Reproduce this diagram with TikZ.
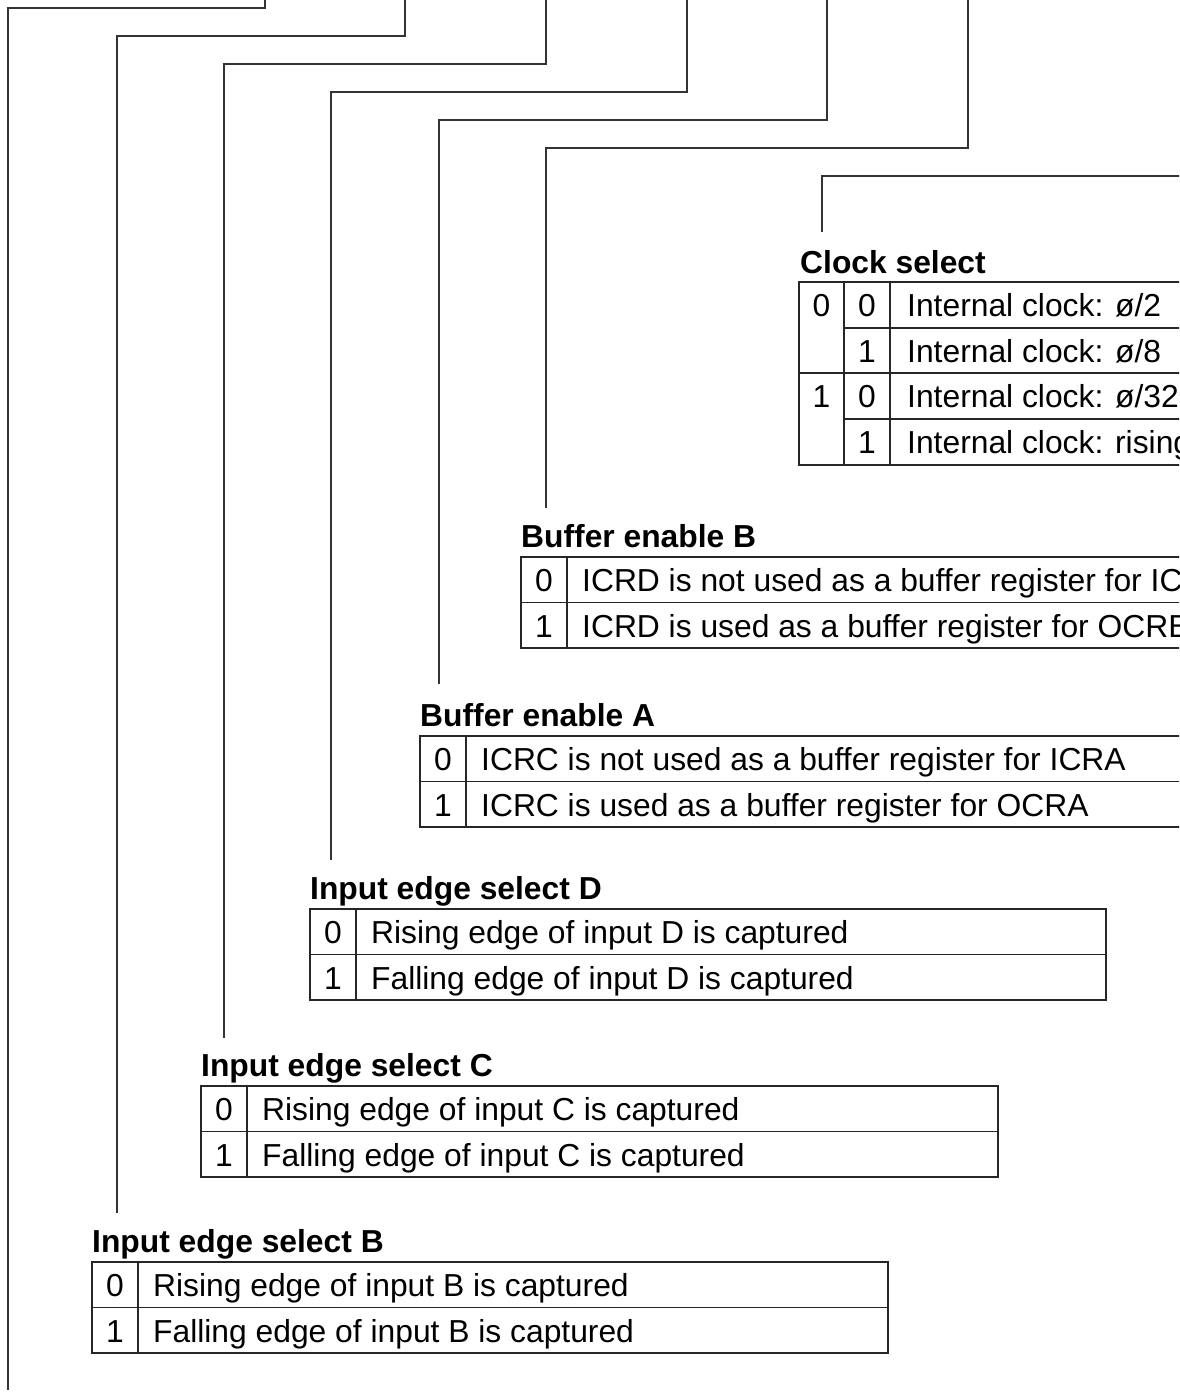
\documentclass[tikz,border=0pt]{standalone}
\usepackage{fontspec}
\newfontfamily\arialf{Liberation Sans}
\newcommand\bodyfont{\arialf\fontsize{31.8}{38}\selectfont}
\newcommand\titlefont{\arialf\bfseries\fontsize{31.8}{38}\selectfont}
\tikzset{
  ttl/.style={font=\titlefont, anchor=base west, inner sep=0pt},
  dig/.style={font=\bodyfont, anchor=base, inner sep=0pt},
  txt/.style={font=\bodyfont, anchor=base west, inner sep=0pt},
  rule/.style={draw=black!85, line width=1.4pt},
  conn/.style={draw=black!80, line width=1.4pt},
}
\begin{document}
\begin{tikzpicture}[x=1pt,y=-1pt]
\useasboundingbox (0,0) rectangle (1179,1395);
\fill[white] (0,0) rectangle (1179,1395);
\clip (0,0) rectangle (1179,1395);

% ---------- connectors ----------
\coordinate (s1) at (265,-5);  \coordinate (b1) at (8,8);    \coordinate (e1) at (8,1390);
\coordinate (s2) at (405,-5);  \coordinate (b2) at (117,36); \coordinate (e2) at (117,1213);
\coordinate (s3) at (546,-5);  \coordinate (b3) at (224,64); \coordinate (e3) at (224,1038);
\coordinate (s4) at (687,-5);  \coordinate (b4) at (331,92); \coordinate (e4) at (331,860);
\coordinate (s5) at (827,-5);  \coordinate (b5) at (439,120);\coordinate (e5) at (439,684);
\coordinate (s6) at (968,-5);  \coordinate (b6) at (546,148);\coordinate (e6) at (546,508);
\coordinate (s7) at (1300,176);\coordinate (b7) at (822,176);\coordinate (e7) at (822,232);
\foreach \i in {1,...,6}{
  \draw[conn] (s\i) -- (s\i |- b\i) -- (b\i) -- (e\i);
}
\draw[conn] (s7) -- (b7) -- (e7);

% ---------- Clock select ----------
\node[ttl] (tclk) at (800,273) {Clock select};
\draw[rule] (799,282) rectangle (1300,465);
\draw[rule] (844,282) -- (844,465);
\draw[rule] (890,282) -- (890,465);
\draw[rule] (799,373) -- (1300,373);
\draw[rule] (844,328) -- (1300,328);
\draw[rule] (844,419) -- (1300,419);
\node[dig] (c1a) at (821.5,316) {0};
\node[dig] (c1b) at (821.5,407) {1};
\node[dig] (c2a) at (867,316) {0};
\node[dig] (c2b) at (867,362) {1};
\node[dig] (c2c) at (867,407) {0};
\node[dig] (c2d) at (867,453) {1};
\node[txt] (ct1) at (907,316) {Internal clock: ø/2};
\node[txt] (ct2) at (907,362) {Internal clock: ø/8};
\node[txt] (ct3) at (907,407) {Internal clock: ø/32};
\node[txt] (ct4) at (907,453) {Internal clock: rising edge};

% ---------- two-row tables ----------
% #1 name, #2 left, #3 top, #4 right, #5 title, #6 row0, #7 row1
\newcommand\twotab[7]{%
  \node[ttl] (t#1) at (#2,#3-10) {#5};
  \draw[rule] (#2,#3) rectangle (#4,#3+91);
  \draw[rule] (#2+46,#3) -- (#2+46,#3+91);
  \draw[rule] (#2,#3+45.5) -- (#4,#3+45.5);
  \node[dig] (d#1a) at (#2+23,#3+34) {0};
  \node[dig] (d#1b) at (#2+23,#3+80) {1};
  \node[txt] (x#1a) at (#2+61,#3+34) {#6};
  \node[txt] (x#1b) at (#2+61,#3+80) {#7};
}
\twotab{bb}{521}{557}{1300}{Buffer enable B}{ICRD is not used as a buffer register for ICRB}{ICRD is used as a buffer register for OCRB}
\twotab{ba}{420}{736}{1300}{Buffer enable A}{ICRC is not used as a buffer register for ICRA}{ICRC is used as a buffer register for OCRA}
\twotab{ed}{310}{909}{1106}{Input edge select D}{Rising edge of input D is captured}{Falling edge of input D is captured}
\twotab{ec}{201}{1086}{998}{Input edge select C}{Rising edge of input C is captured}{Falling edge of input C is captured}
\twotab{eb}{92}{1262}{888}{Input edge select B}{Rising edge of input B is captured}{Falling edge of input B is captured}
\end{tikzpicture}
\end{document}
